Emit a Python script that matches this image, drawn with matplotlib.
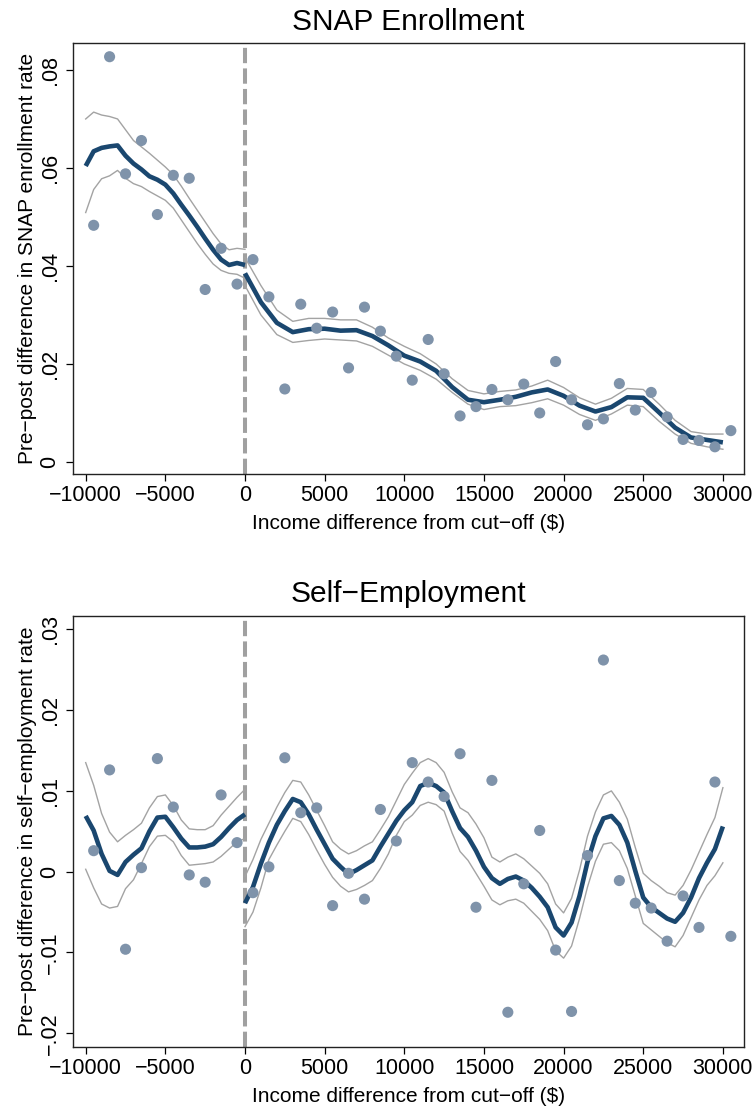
import numpy as np
import matplotlib
matplotlib.use("Agg")
import matplotlib.pyplot as plt

plt.rcParams['font.family'] = ['Liberation Sans', 'DejaVu Sans']
plt.rcParams['axes.unicode_minus'] = True

# ---------------- binned means (1000-dollar bins) ----------------
bin_x = list(range(-9500, 31000, 1000))

snap_bins = [0.0483, 0.0827, 0.0588, 0.0656, 0.0505, 0.0585, 0.0579, 0.0352, 0.0436, 0.0363,
             0.0413, 0.0337, 0.0149, 0.0322, 0.0273, 0.0306, 0.0192, 0.0316, 0.0267, 0.0216,
             0.0167, 0.0250, 0.0180, 0.0094, 0.0113, 0.0148, 0.0127, 0.0159, 0.0100, 0.0205,
             0.0127, 0.0076, 0.0088, 0.0160, 0.0106, 0.0142, 0.0092, 0.0046, 0.0044, 0.0031,
             0.0064]

self_bins = [0.0026, 0.0126, -0.0096, 0.0005, 0.0140, 0.0080, -0.0004, -0.0013, 0.0095, 0.0036,
             -0.0026, 0.0006, 0.0141, 0.0073, 0.0079, -0.0042, -0.0002, -0.0034, 0.0077, 0.0038,
             0.0135, 0.0111, 0.0093, 0.0146, -0.0044, 0.0113, -0.0174, -0.0015, 0.0051, -0.0097,
             -0.0173, 0.0020, 0.0262, -0.0011, -0.0039, -0.0045, -0.0086, -0.0030, -0.0069, 0.0111,
             -0.0080]

# ---------------- local polynomial fits with 95% bands ----------------
grid_left = list(range(-10000, 500, 500))
grid_right_snap = list(range(0, 31000, 1000))
grid_right_self = list(range(0, 30500, 500))

snap_fit_left = [0.0604, 0.0634, 0.0641, 0.0644, 0.0646, 0.0625, 0.0609, 0.0597, 0.0583, 0.0576,
                 0.0566, 0.0548, 0.0525, 0.0503, 0.0480, 0.0456, 0.0433, 0.0413, 0.0402, 0.0406,
                 0.0402]
snap_hi_left = [0.0700, 0.0714, 0.0708, 0.0705, 0.0700, 0.0678, 0.0656, 0.0643, 0.0630, 0.0616,
                0.0602, 0.0586, 0.0563, 0.0538, 0.0514, 0.0490, 0.0466, 0.0445, 0.0433, 0.0436,
                0.0434]
snap_lo_left = [0.0509, 0.0556, 0.0578, 0.0584, 0.0595, 0.0579, 0.0568, 0.0562, 0.0552, 0.0543,
                0.0534, 0.0518, 0.0494, 0.0470, 0.0446, 0.0424, 0.0404, 0.0391, 0.0385, 0.0383,
                0.0375]

snap_fit_right = [0.0385, 0.0326, 0.0284, 0.0265, 0.0271, 0.0272, 0.0268, 0.0269, 0.0257, 0.0238,
                  0.0217, 0.0205, 0.0186, 0.0153, 0.0127, 0.0122, 0.0127, 0.0133, 0.0142, 0.0148,
                  0.0135, 0.0115, 0.0103, 0.0112, 0.0132, 0.0131, 0.0101, 0.0070, 0.0050, 0.0045,
                  0.0040]
snap_hi_right = [0.0417, 0.0360, 0.0310, 0.0287, 0.0293, 0.0293, 0.0290, 0.0290, 0.0275, 0.0253,
                 0.0236, 0.0221, 0.0200, 0.0170, 0.0146, 0.0139, 0.0144, 0.0147, 0.0155, 0.0167,
                 0.0152, 0.0131, 0.0118, 0.0130, 0.0150, 0.0148, 0.0118, 0.0085, 0.0062, 0.0057,
                 0.0057]
snap_lo_right = [0.0360, 0.0300, 0.0260, 0.0244, 0.0248, 0.0251, 0.0249, 0.0247, 0.0236, 0.0218,
                 0.0200, 0.0187, 0.0169, 0.0142, 0.0118, 0.0107, 0.0113, 0.0115, 0.0121, 0.0129,
                 0.0116, 0.0097, 0.0085, 0.0098, 0.0116, 0.0113, 0.0083, 0.0057, 0.0038, 0.0031,
                 0.0026]

self_fit_left = [0.0069, 0.0051, 0.0022, 0.0001, -0.0004, 0.0012, 0.0021, 0.0029, 0.0050, 0.0067,
                 0.0068, 0.0055, 0.0041, 0.0030, 0.0030, 0.0031, 0.0034, 0.0043, 0.0054, 0.0064,
                 0.0071]
self_hi_left = [0.0135, 0.0107, 0.0072, 0.0049, 0.0037, 0.0045, 0.0052, 0.0060, 0.0079, 0.0093,
                0.0095, 0.0082, 0.0064, 0.0053, 0.0052, 0.0052, 0.0057, 0.0070, 0.0081, 0.0092,
                0.0102]
self_lo_left = [0.0003, -0.0020, -0.0040, -0.0045, -0.0043, -0.0021, -0.0010, 0.0010, 0.0031, 0.0044,
                0.0045, 0.0037, 0.0020, 0.0008, 0.0009, 0.0010, 0.0012, 0.0019, 0.0028, 0.0037,
                0.0041]

self_fit_right = [-0.0039, -0.0019, 0.0010, 0.0036, 0.0058, 0.0075, 0.0090, 0.0086, 0.0071, 0.0052,
                  0.0034, 0.0016, 0.0006, -0.0003, 0.0002, 0.0008, 0.0014, 0.0031, 0.0047, 0.0063,
                  0.0076, 0.0086, 0.0106, 0.0110, 0.0106, 0.0098, 0.0075, 0.0054, 0.0043, 0.0026,
                  0.0006, -0.0008, -0.0015, -0.0009, -0.0006, -0.0011, -0.0020, -0.0031, -0.0044, -0.0069,
                  -0.0079, -0.0063, -0.0030, 0.0012, 0.0044, 0.0066, 0.0069, 0.0058, 0.0036, 0.0001,
                  -0.0032, -0.0044, -0.0051, -0.0058, -0.0062, -0.0051, -0.0032, -0.0008, 0.0011, 0.0028,
                  0.0056]
self_hi_right = [-0.0006, 0.0015, 0.0040, 0.0060, 0.0080, 0.0098, 0.0113, 0.0111, 0.0095, 0.0076,
                 0.0057, 0.0037, 0.0028, 0.0022, 0.0026, 0.0032, 0.0037, 0.0052, 0.0068, 0.0088,
                 0.0108, 0.0122, 0.0135, 0.0140, 0.0135, 0.0123, 0.0099, 0.0079, 0.0073, 0.0059,
                 0.0042, 0.0018, 0.0012, 0.0018, 0.0022, 0.0016, 0.0007, -0.0002, -0.0015, -0.0040,
                 -0.0051, -0.0033, 0.0002, 0.0044, 0.0074, 0.0095, 0.0100, 0.0086, 0.0065, 0.0030,
                 -0.0002, -0.0011, -0.0018, -0.0026, -0.0029, -0.0017, 0.0002, 0.0024, 0.0046, 0.0067,
                 0.0104]
self_lo_right = [-0.0068, -0.0050, -0.0020, 0.0015, 0.0033, 0.0050, 0.0066, 0.0062, 0.0046, 0.0027,
                 0.0009, -0.0007, -0.0018, -0.0025, -0.0022, -0.0017, -0.0011, 0.0004, 0.0022, 0.0045,
                 0.0062, 0.0070, 0.0082, 0.0086, 0.0083, 0.0075, 0.0048, 0.0025, 0.0014, -0.0002,
                 -0.0018, -0.0035, -0.0041, -0.0036, -0.0034, -0.0039, -0.0049, -0.0059, -0.0073, -0.0098,
                 -0.0107, -0.0092, -0.0058, -0.0019, 0.0013, 0.0034, 0.0036, 0.0026, 0.0004, -0.0030,
                 -0.0064, -0.0072, -0.0080, -0.0088, -0.0093, -0.0079, -0.0057, -0.0035, -0.0017, -0.0005,
                 0.0011]

x_ticks = [-10000, -5000, 0, 5000, 10000, 15000, 20000, 25000, 30000]
snap_yticks = [0, 0.02, 0.04, 0.06, 0.08]
snap_yticklabels = ["0", ".02", ".04", ".06", ".08"]
self_yticks = [-0.02, -0.01, 0, 0.01, 0.02, 0.03]
self_yticklabels = ["\u2212.02", "\u2212.01", "0", ".01", ".02", ".03"]

X_LABEL = "Income difference from cut\u2212off ($)"

DOT = "#7f93aa"
FIT = "#1a476f"
BAND = "#a3a3a3"
CUT = "#a0a0a0"

W, H = 756, 1107
fig = plt.figure(figsize=(W / 100, H / 100), dpi=100)


def panel(rect, title, ylabel, bins, gl, fl, hl, ll, gr, fr, hr, lr,
          ylim, yticks, yticklabels, title_pad):
    ax = fig.add_axes(rect)
    ax.axvline(0, color=CUT, lw=2.9, dashes=(3.8, 1.3), zorder=1)
    for g, f, h, l in ((gl, fl, hl, ll), (gr, fr, hr, lr)):
        ax.plot(g, h, color=BAND, lw=1.0, zorder=2)
        ax.plot(g, l, color=BAND, lw=1.0, zorder=2)
        ax.plot(g, f, color=FIT, lw=3.3, zorder=3, solid_capstyle='butt')
    ax.scatter(bin_x, bins, s=64, color=DOT, edgecolors='none', zorder=4)

    ax.set_xlim(-10797, 31325)
    ax.set_ylim(*ylim)
    ax.set_xticks(x_ticks)
    ax.set_xticklabels([f"{t}".replace("-", "\u2212") for t in x_ticks])
    ax.set_yticks(yticks)
    ax.set_yticklabels(yticklabels, rotation=90, va='center')
    ax.tick_params(axis='both', direction='out', length=5, width=0.9,
                   labelsize=15.5, color='black')
    ax.tick_params(axis='x', pad=3)
    ax.tick_params(axis='y', pad=4)
    for sp in ax.spines.values():
        sp.set_linewidth(1.0)
        sp.set_color('#222222')
    ax.set_title(title, fontsize=21.5, pad=title_pad)
    ax.set_xlabel(X_LABEL, fontsize=15)
    ax.set_ylabel(ylabel, fontsize=15)
    ax.xaxis.set_label_coords(0.5, -0.092)
    ax.yaxis.set_label_coords(-0.053, 0.5)
    return ax


ax_w = 671 / W
ax_h = 431 / H
panel([73 / W, 1 - 474 / H, ax_w, ax_h], "SNAP Enrollment",
      "Pre\u2212post difference in SNAP enrollment rate", snap_bins,
      grid_left, snap_fit_left, snap_hi_left, snap_lo_left,
      grid_right_snap, snap_fit_right, snap_hi_right, snap_lo_right,
      (-0.00245, 0.0855), snap_yticks, snap_yticklabels, 9)

panel([73 / W, 1 - 1047 / H, ax_w, ax_h], "Self\u2212Employment",
      "Pre\u2212post difference in self\u2212employment rate", self_bins,
      grid_left, self_fit_left, self_hi_left, self_lo_left,
      grid_right_self, self_fit_right, self_hi_right, self_lo_right,
      (-0.0217, 0.03165), self_yticks, self_yticklabels, 10)

fig.savefig("out.png", dpi=100, facecolor='white')
